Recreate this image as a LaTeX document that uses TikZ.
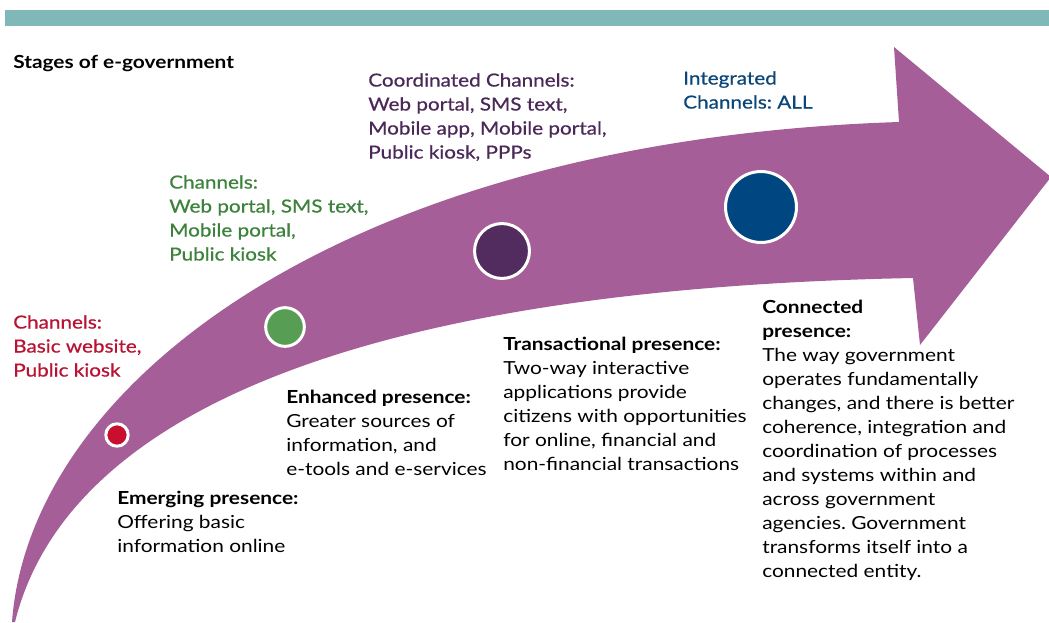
\documentclass[tikz,border=0pt]{standalone}
\usepackage{fontspec}
\setmainfont{Lato}[FakeStretch=1.16]
\newfontfamily\chfont{Lato}[FakeStretch=1.15,FakeBold=0.6]
\definecolor{barteal}{RGB}{128,183,184}
\definecolor{bandpurple}{RGB}{166,94,152}
\definecolor{cred}{RGB}{200,16,46}
\definecolor{tred}{RGB}{185,18,50}
\definecolor{cgreen}{RGB}{88,157,84}
\definecolor{tgreen}{RGB}{60,130,60}
\definecolor{cpurple}{RGB}{82,44,95}
\definecolor{tpurple}{RGB}{74,40,88}
\definecolor{cblue}{RGB}{0,70,128}
\definecolor{tblue}{RGB}{10,70,120}
\tikzset{
  txt/.style={anchor=north west, inner sep=0pt, align=left,
    font=\fontsize{13.5pt}{18pt}\selectfont\frenchspacing},
  chtxt/.style={txt, font=\fontsize{13.5pt}{18pt}\selectfont\chfont\frenchspacing},
  stagedot/.style={circle, draw=white, line width=2.25pt, inner sep=0pt}
}
\begin{document}
\begin{tikzpicture}[x=0.75pt,y=-0.75pt]
\clip (0,0) rectangle (1049,622);
\fill[white] (0,0) rectangle (1049,622);
% top bar
\fill[barteal] (5,10) rectangle (1049,26);
% curved band arrow
\fill[bandpurple] (12,622) .. controls (30,380) and (350,140) .. (899,122)
  -- (894,47) -- (1051,177) -- (920,345) -- (913,278)
  .. controls (300,290) and (60,440) .. (15,622) -- cycle;
% stage dots
\node[stagedot, fill=cred, minimum size=16.8pt] (d1) at (117,435) {};
\node[stagedot, fill=cgreen, minimum size=29pt] (d2) at (285,327) {};
\node[stagedot, fill=cpurple, minimum size=41.2pt] (d3) at (502,251) {};
\node[stagedot, fill=cblue, minimum size=53.2pt] (d4) at (761,207) {};
% texts
\node[txt, font=\fontsize{13.5pt}{18pt}\selectfont\bfseries] (title) at (13,55) {Stages of e-government};
\node[chtxt, text=tred] (ch1) at (13,315) {Channels:\\Basic website,\\Public kiosk};
\node[chtxt, text=tgreen] (ch2) at (169,175) {Channels:\\Web portal, SMS text,\\Mobile portal,\\Public kiosk};
\node[chtxt, text=tpurple] (ch3) at (368,73) {Coordinated Channels:\\Web portal, SMS text,\\Mobile app, Mobile portal,\\Public kiosk, PPPs};
\node[chtxt, text=tblue] (ch4) at (683,71) {Integrated\\Channels: ALL};
\node[txt] (s1) at (117,491) {\textbf{Emerging presence:}\\Offering basic\\information online};
\node[txt] (s2) at (286,390) {\textbf{Enhanced presence:}\\Greater sources of\\information, and\\e-tools and e-services};
\node[txt] (s3) at (503,337) {\textbf{Transactional presence:}\\Two-way interactive\\applications provide\\citizens with opportunities\\for online, financial and\\non-financial transactions};
\node[txt] (s4) at (762,300) {\textbf{Connected}\\\textbf{presence:}\\The way government\\operates fundamentally\\changes, and there is better\\coherence, integration and\\coordination of processes\\and systems within and\\across government\\agencies. Government\\transforms itself into a\\connected entity.};
\end{tikzpicture}
\end{document}
